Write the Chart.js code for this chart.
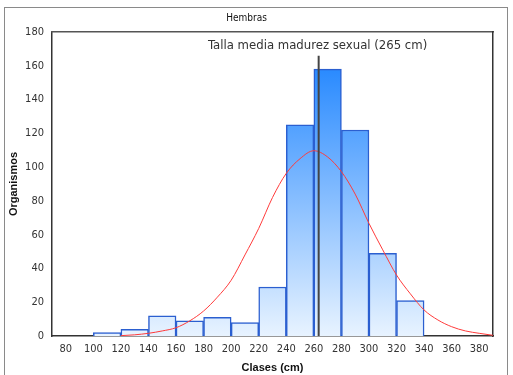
<!DOCTYPE html>
<html>
<head>
<meta charset="utf-8">
<script src="https://cdn.jsdelivr.net/npm/chart.js@4"></script>
<style>
  body { margin: 0; background: #fff; }
  #frame { position: absolute; left: 4px; top: 7px; width: 502px; height: 380px; border: 1.5px solid #8a8a8a; }
  #wrap { position: absolute; left: 0; top: 0; width: 513px; height: 375px; }
</style>
</head>
<body>
<div id="frame"></div>
<div id="wrap"><canvas id="chart" width="513" height="375"></canvas></div>
<script>
// histogram classes (bin centres) and counts
const binCenters = [110, 130, 150, 170, 190, 210, 230, 250, 270, 290, 310, 330];
const binCounts = [2, 4, 12, 9, 11, 8, 29, 125, 158, 122, 49, 21];

// fitted normal curve
const curveX = [120, 130, 140, 150, 160, 170, 180, 190, 200, 210, 220, 230, 240, 250,
                260, 270, 280, 290, 300, 310, 320, 330, 340, 350, 360, 370, 380, 390];
const curveY = [0.2, 0.7, 1.6, 3, 4.9, 9, 14.8, 23, 33, 48, 63.7, 82, 96.3, 105,
                109.7, 106, 97.3, 84, 66.7, 51, 36.1, 25, 15.4, 9.5, 5.5, 3, 1.6, 0.4];

// maturity line (drawn where it sits in the picture)
const maturityX = 263.5;
const maturityTop = 166;
const maturityLabel = 'Talla media madurez sexual (265 cm)';

const xTicks = [80, 100, 120, 140, 160, 180, 200, 220, 240, 260, 280, 300, 320, 340, 360, 380];
const yTicks = [0, 20, 40, 60, 80, 100, 120, 140, 160, 180];

const tickFont = { family: "'DejaVu Sans Condensed', 'Liberation Sans', sans-serif", size: 11 };
const titleFont = { family: "'Liberation Sans', Arial, sans-serif", size: 11, weight: 'bold', lineHeight: 1.2 };

function barGradient(context) {
    const chart = context.chart;
    const area = chart.chartArea;
    if (!area) return '#8cc3fa';
    const g = chart.ctx.createLinearGradient(0, area.top, 0, area.bottom);
    g.addColorStop(0, '#0f7cff');
    g.addColorStop(1, '#e8f3ff');
    return g;
}

const maturityText = {
    id: 'maturityText',
    afterDatasetsDraw(chart) {
        const ctx = chart.ctx;
        const x = chart.scales.x.getPixelForValue(maturityX);
        const y = chart.scales.y.getPixelForValue(172);
        ctx.save();
        ctx.font = "13px 'DejaVu Sans Condensed', 'Liberation Sans', sans-serif";
        ctx.fillStyle = '#333';
        ctx.textAlign = 'center';
        ctx.textBaseline = 'middle';
        ctx.fillText(maturityLabel, x - 1, y);
        ctx.restore();
    }
};

new Chart(document.getElementById('chart'), {
    type: 'bar',
    data: {
        datasets: [
            {
                type: 'line',
                data: curveX.map((x, i) => ({ x: x, y: curveY[i] })),
                borderColor: '#ff3b3b',
                borderWidth: 1,
                pointRadius: 0,
                cubicInterpolationMode: 'monotone',
                fill: false,
                order: 1
            },
            {
                type: 'line',
                data: [{ x: maturityX, y: 0 }, { x: maturityX, y: maturityTop }],
                borderColor: '#444',
                borderWidth: 2,
                pointRadius: 0,
                fill: false,
                order: 0
            },
            {
                type: 'bar',
                data: binCenters.map((x, i) => ({ x: x, y: binCounts[i] })),
                backgroundColor: barGradient,
                borderColor: '#2b5fd0',
                borderWidth: 1.5,
                barPercentage: 1,
                categoryPercentage: 1,
                order: 2
            }
        ]
    },
    options: {
        responsive: false,
        animation: false,
        layout: { padding: { left: 0, right: 20, top: 0, bottom: 0 } },
        plugins: {
            legend: { display: false },
            tooltip: { enabled: false },
            title: {
                display: true,
                text: 'Hembras',
                color: '#111',
                font: { family: "'DejaVu Sans Condensed', 'Liberation Sans', sans-serif", size: 10, weight: 'normal', lineHeight: 1.2 },
                padding: { top: 12, bottom: 8 }
            }
        },
        scales: {
            x: {
                type: 'linear',
                min: 70,
                max: 390,
                offset: false,
                afterBuildTicks: (scale) => { scale.ticks = xTicks.map(v => ({ value: v })); },
                afterFit: (scale) => { scale.height = 39; },
                grid: { display: false, offset: false, drawTicks: true, tickLength: 4, tickColor: '#333' },
                border: { display: true, color: '#333', width: 1.5 },
                ticks: { color: '#333', font: tickFont, padding: 3, maxRotation: 0, autoSkip: false },
                title: { display: true, text: 'Clases (cm)', color: '#111', font: titleFont, padding: { top: 0, bottom: 0 } }
            },
            y: {
                min: 0,
                max: 180,
                afterBuildTicks: (scale) => { scale.ticks = yTicks.map(v => ({ value: v })); },
                afterFit: (scale) => { scale.width = 52; },
                grid: { display: false, drawTicks: true, tickLength: 4, tickColor: '#333' },
                border: { display: true, color: '#333', width: 1.5 },
                ticks: { color: '#333', font: tickFont, padding: 4 },
                title: { display: true, text: 'Organismos', color: '#111', font: titleFont, padding: { top: 7.5, bottom: 0 } }
            },
            x2: {
                type: 'linear', position: 'top', display: true,
                grid: { display: false, drawTicks: false }, ticks: { display: false },
                border: { display: true, color: '#555', width: 1.5 },
                afterFit: (scale) => { scale.height = 0; }
            },
            y2: {
                type: 'linear', position: 'right', display: true,
                grid: { display: false, drawTicks: false }, ticks: { display: false },
                border: { display: true, color: '#333', width: 1.5 },
                afterFit: (scale) => { scale.width = 0; }
            }
        }
    },
    plugins: [maturityText]
});
</script>
</body>
</html>
